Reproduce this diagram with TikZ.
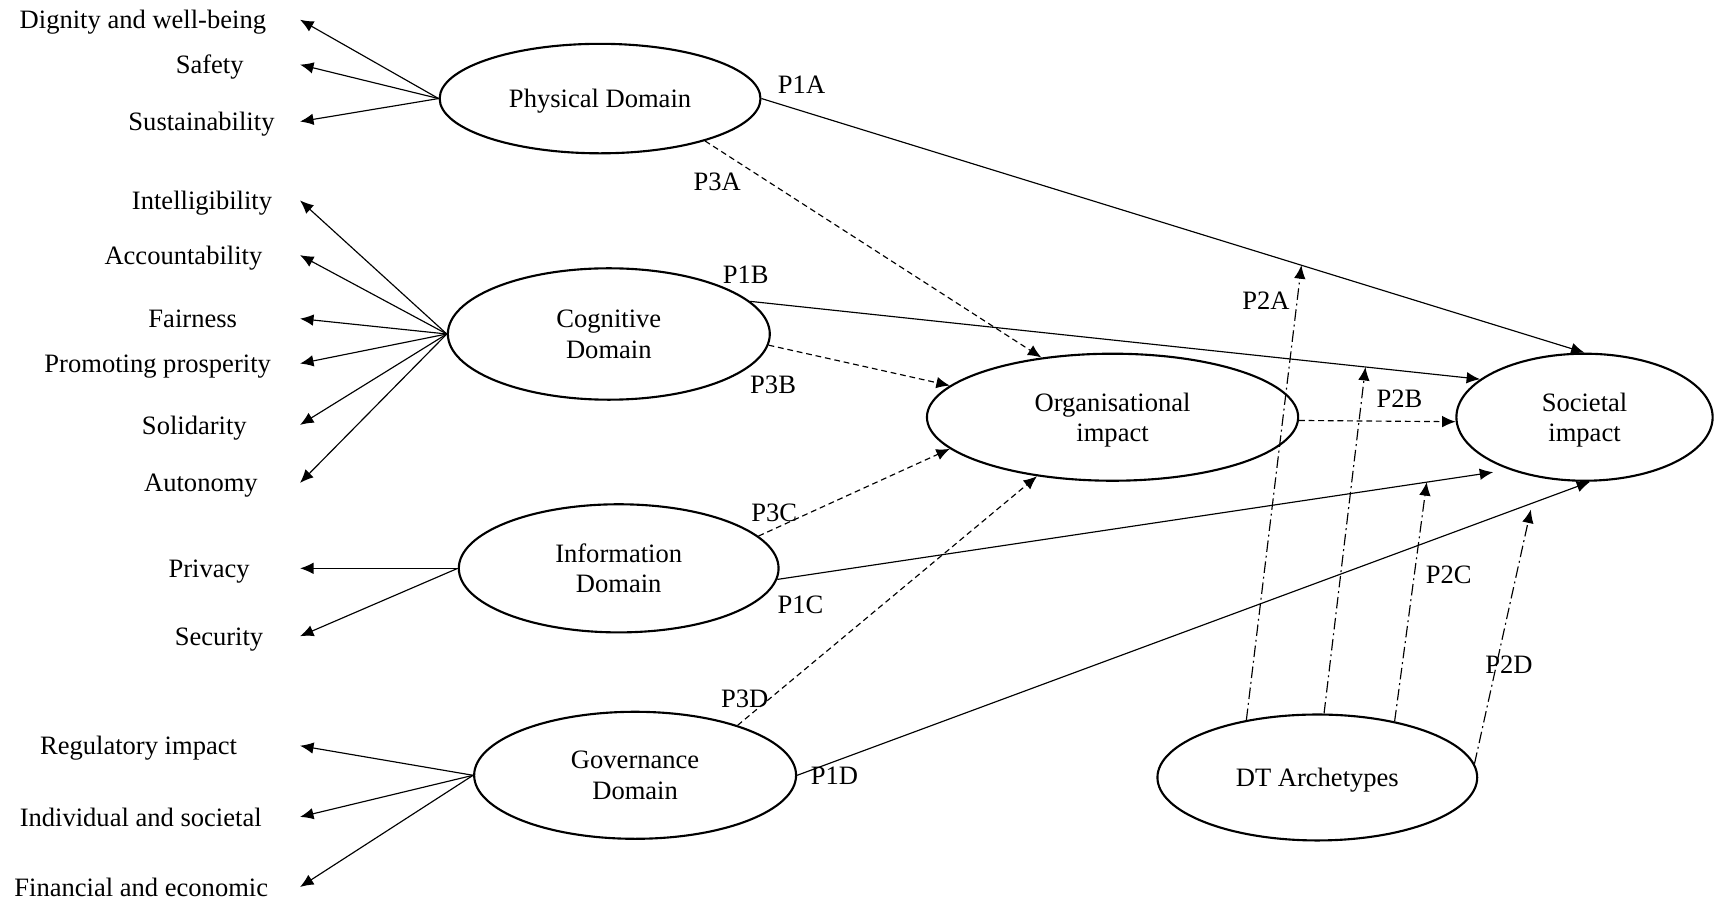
\documentclass[tikz,border=0pt]{standalone}
\usepackage{fontspec}
\setmainfont{Liberation Serif}
\usetikzlibrary{shapes.geometric,arrows.meta}

\begin{document}
\begin{tikzpicture}[>={Latex[length=7pt,width=6pt]}, line width=.6pt,
  font=\fontsize{13.8}{15.9}\selectfont, every node/.style={text depth=0pt},
  dom/.style={draw, ellipse, line width=1.1pt, inner sep=0pt, align=center},
  dsh/.style={dash pattern=on 3pt off 2pt},
  dshdot/.style={dash pattern=on 6pt off 2pt on 1pt off 2pt}]
\useasboundingbox (0,0) rectangle (31.36,-16.5);

% domains and impacts
\node[dom, minimum width=5.86cm, minimum height=2cm] (phys) at (10.96,-1.8) {Physical Domain};
\node[dom, minimum width=5.88cm, minimum height=2.4cm] (cog) at (11.12,-6.1) {Cognitive\\Domain};
\node[dom, minimum width=5.84cm, minimum height=2.34cm] (info) at (11.3,-10.38) {Information\\Domain};
\node[dom, minimum width=5.88cm, minimum height=2.32cm] (gov) at (11.6,-14.16) {Governance\\Domain};
\node[dom, minimum width=6.78cm, minimum height=2.32cm] (org) at (20.32,-7.62) {Organisational\\impact};
\node[dom, minimum width=4.68cm, minimum height=2.32cm] (soc) at (28.94,-7.62) {Societal\\impact};
\node[dom, minimum width=5.84cm, minimum height=2.3cm] (dt) at (24.06,-14.2) {DT Archetypes};

% values
\coordinate (tipcol) at (5.48,0);
\foreach \n/\x/\y/\t in {dig/2.61/-0.36/Dignity and well-being, saf/3.83/-1.18/Safety,
  sus/3.68/-2.22/Sustainability, int/3.69/-3.66/Intelligibility, acc/3.35/-4.66/Accountability,
  fai/3.52/-5.82/Fairness, pro/2.88/-6.64/Promoting prosperity, sol/3.55/-7.76/Solidarity,
  aut/3.67/-8.82/Autonomy, pri/3.82/-10.38/Privacy, sec/4.0/-11.62/Security,
  reg/2.53/-13.62/Regulatory impact, ind/2.57/-14.92/Individual and societal,
  fin/2.58/-16.2/Financial and economic}
{
    \node (\n) at (\x,\y) {\t};
}
\foreach \n in {dig,saf,sus} \draw[->] (phys.west) -- (\n -| tipcol);
\foreach \n in {int,acc,fai,pro,sol,aut} \draw[->] (cog.west) -- (\n -| tipcol);
\foreach \n in {pri,sec} \draw[->] (info.west) -- (\n -| tipcol);
\foreach \n in {reg,ind,fin} \draw[->] (gov.west) -- (\n -| tipcol);

% P1
\draw[->] (phys.east) -- coordinate[pos=.656] (m1a) (soc.north);
\draw[->] (cog.13) -- coordinate[pos=.843] (m1b) (soc.160);
\draw[->, shorten >=.3cm] (info.-4) -- coordinate[pos=.887] (m1c) (soc.-145);
\draw[->] (gov.east) -- coordinate[pos=.927] (m1d) (soc.-85);

% P3
\draw[->, dsh] (phys.-22) -- (org.140);
\draw[->, dsh] (cog.-4) -- (org.169);
\draw[->, dsh] (info.13) -- (org.191);
\draw[->, dsh] (gov.26) -- (org.218);
\draw[->, dsh] (org.-1) -- (soc.182);

% P2
\draw[->, dshdot] (dt.141) -- (m1a);
\draw[->, dshdot] (dt.84) -- (m1b);
\draw[->, dshdot] (dt.36) -- (m1c);
\draw[->, dshdot, shorten >=.12cm] (dt.5) -- (m1d);

\foreach \n/\x/\y/\t in {p1a/14.64/-1.54/P1A, p3a/13.1/-3.32/P3A, p1b/13.62/-5.02/P1B,
  p3b/14.12/-7.02/P3B, p3c/14.14/-9.36/P3C, p1c/14.62/-11.04/P1C, p3d/13.6/-12.76/P3D,
  p1d/15.24/-14.16/P1D, p2a/23.12/-5.5/P2A, p2b/25.56/-7.28/P2B, p2c/26.46/-10.5/P2C,
  p2d/27.56/-12.14/P2D}
{
    \node (\n) at (\x,\y) {\t};
}
\end{tikzpicture}
\end{document}
